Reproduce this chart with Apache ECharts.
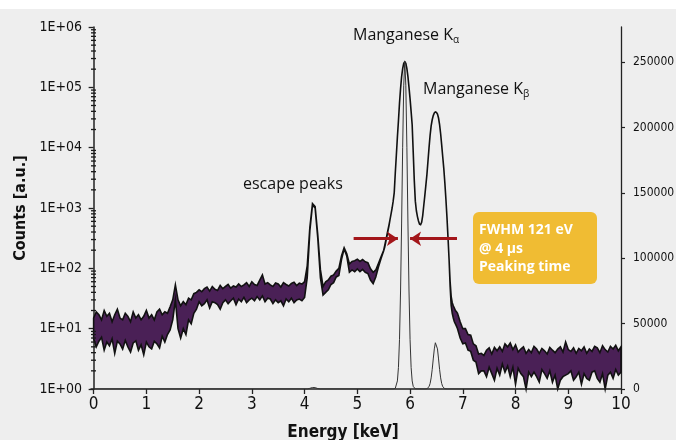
<!DOCTYPE html>
<html><head><meta charset="utf-8">
<script src="https://cdn.jsdelivr.net/npm/echarts@6/dist/echarts.min.js"></script>
<style>html,body{margin:0;padding:0;background:#eeeeee;}#c{width:676px;height:440px;}</style>
</head><body><div id="c"></div>
<script>
// ---- spectrum (log scale, left axis): energy grid, upper / lower noise envelope ----
const energy = [
 0,0.05,0.1,0.15,0.2,0.25,0.3,0.35,0.4,0.45,0.5,0.55,0.6,0.65,0.7,0.75,0.8,0.85,0.9,0.95,
 1,1.05,1.1,1.15,1.2,1.25,1.3,1.35,1.4,1.45,1.5,1.55,1.6,1.65,1.7,1.75,1.8,1.85,1.9,1.95,
 2,2.05,2.1,2.15,2.2,2.25,2.3,2.35,2.4,2.45,2.5,2.55,2.6,2.65,2.7,2.75,2.8,2.85,2.9,2.95,
 3,3.05,3.1,3.15,3.2,3.25,3.3,3.35,3.4,3.45,3.5,3.55,3.6,3.65,3.7,3.75,3.8,3.85,3.9,3.95,
 4,4.05,4.1,4.15,4.2,4.25,4.3,4.35,4.4,4.45,4.5,4.55,4.6,4.65,4.7,4.75,4.8,4.85,4.9,4.95,
 5,5.05,5.1,5.15,5.2,5.25,5.3,5.35,5.4,5.45,5.5,
 5.52,5.54,5.56,5.58,5.6,5.62,5.64,5.66,5.68,5.7,5.72,5.74,5.76,5.78,5.8,5.82,5.84,5.86,5.88,5.9,
 5.92,5.94,5.96,5.98,6,6.02,6.04,6.06,6.08,6.1,6.12,6.14,6.16,6.18,6.2,6.22,6.24,6.26,6.28,6.3,
 6.32,6.34,6.36,6.38,6.4,6.42,6.44,6.46,6.48,6.5,6.52,6.54,6.56,6.58,6.6,6.62,6.64,6.66,6.68,6.7,
 6.72,6.74,6.76,6.78,6.8,6.82,6.84,6.86,6.88,6.9,
 6.95,7,7.05,7.1,7.15,7.2,7.25,7.3,7.35,7.4,7.45,7.5,7.55,7.6,7.65,7.7,7.75,7.8,7.85,7.9,
 7.95,8,8.05,8.1,8.15,8.2,8.25,8.3,8.35,8.4,8.45,8.5,8.55,8.6,8.65,8.7,8.75,8.8,8.85,8.9,
 8.95,9,9.05,9.1,9.15,9.2,9.25,9.3,9.35,9.4,9.45,9.5,9.55,9.6,9.65,9.7,9.75,9.8,9.85,9.9,
 9.95,10
];
const countsUpper = [
 15,19,17,14,20,16,18,13,17,21,15,14,18,16,13,19,15,17,14,16,
 20,15,17,14,19,21,17,19,18,23,30,53,30,24,28,25,32,30,38,40,
 44,41,46,49,42,50,45,43,52,46,50,54,47,51,49,55,50,53,58,50,
 60,54,52,64,78,55,58,53,50,57,55,49,58,54,51,56,59,52,57,55,
 60,110,480,1180,1060,360,95,50,60,64,74,78,90,100,160,220,175,118,130,134,
 142,130,140,128,124,98,86,94,120,155,200,
 240,290,350,430,520,640,800,1000,1300,1800,3800,7500,15000,28000,55000,95000,150000,205000,250000,265000,
 250000,205000,150000,100000,65000,40000,24000,8500,2900,1300,900,720,610,540,530,580,750,1100,1600,2400,
 3600,6000,10000,16000,23000,29000,34000,37500,39000,38500,36000,31000,24000,17000,11000,7000,4500,2600,1400,700,
 320,140,60,34,27,24,22,20,19,18,
 13,10,10,8,7.8,5.6,5.2,3.8,3.9,
 3.6,4.4,4.8,3.8,4.9,4.3,5.0,4.2,5.6,5.0,5.8,4.5,5.4,4.1,4.6,5.0,3.9,4.5,4.0,5.1,
 4.6,3.9,4.7,4.3,3.8,4.9,4.4,4.0,4.6,5.0,4.1,6.0,4.5,4.2,4.8,3.9,4.7,4.3,5.0,3.9,
 4.6,4.2,5.1,4.8,4.0,5.2,4.5,4.1,5.1,4.6,5.3,4.3,5.0
];
const countsLower = [
 6.8,5.0,6.2,7.2,4.4,6.0,5.2,6.8,3.9,6.2,5.6,4.6,6.4,5.0,4.1,5.8,6.3,4.4,5.4,3.7,
 6.0,5.0,4.6,6.2,5.6,4.8,7.5,6.0,8.0,9.5,14,30,10,7.0,10,8.0,14,12,18,21,
 28,24,26,30,22,28,27,25,21,27,30,26,29,32,25,31,28,33,27,30,
 32,29,34,30,35,28,32,31,26,30,27,29,24,31,28,32,27,30,31,29,
 33,70,420,1120,1000,320,70,36,40,44,54,58,72,76,140,210,160,86,94,88,
 98,88,96,86,82,64,56,72,105,145,195,
 225,275,335,415,505,640,800,1000,1300,1800,3800,7500,15000,28000,55000,95000,150000,205000,250000,265000,
 250000,205000,150000,100000,65000,40000,24000,8500,2900,1300,900,720,610,540,530,580,750,1100,1600,2400,
 3600,6000,10000,16000,23000,29000,34000,37500,39000,38500,36000,31000,24000,17000,11000,7000,4500,2600,1400,700,
 320,140,50,24,18,15,13,12,11,10,
 7.0,5.6,5.8,4.4,4.2,3.0,2.8,1.8,2.0,
 2.0,1.6,2.3,1.8,1.4,2.2,1.7,2.6,1.9,2.4,1.6,2.3,1.2,2.2,1.8,1.6,1.0,1.9,1.6,1.9,
 1.6,1.3,2.1,1.8,1.5,2.0,1.3,1.7,1.0,1.4,1.6,1.7,1.8,2.0,1.4,1.6,1.9,1.2,1.8,1.5,
 1.4,1.9,2.0,1.5,1.3,1.8,1.0,1.7,1.9,1.5,2.1,1.7,1.9
];
// ---- spectrum (linear scale, right axis) ----
const linEnergy = [
 0,4.05,4.1,4.15,4.2,4.25,4.3,
 5.68,5.7,5.72,5.74,5.76,5.78,5.8,5.82,5.84,5.86,5.88,5.9,5.92,5.94,5.96,5.98,6,6.02,6.04,6.06,6.08,6.1,6.12,
 6.28,6.3,6.32,6.34,6.36,6.38,6.4,6.42,6.44,6.46,6.48,6.5,6.52,6.54,6.56,6.58,6.6,6.62,6.64,6.66,6.68,6.7,
 10
];
const linCounts = [
 0,0,500,1150,1050,350,0,
 0,100,550,2000,6200,16500,38000,75000,127000,185000,232000,251000,232000,185000,127000,75000,38000,16500,6200,2000,550,100,0,
 0,60,210,660,1780,4200,8500,15000,23000,30700,35400,35400,30700,23000,15000,8500,4200,1780,660,210,60,0,
 0
];
// ---- axes ----
const xMin = -0.05;
const xTicks = [0,1,2,3,4,5,6,7,8,9,10];
const yLogLabels = ['1E+00','1E+01','1E+02','1E+03','1E+04','1E+05','1E+06'];
const yLogMinorTicks = [2,3,4,5,6,7,8,9,20,30,40,50,60,70,80,90,200,300,400,500,600,700,800,900,
 2000,3000,4000,5000,6000,7000,8000,9000,20000,30000,40000,50000,60000,70000,80000,90000,
 200000,300000,400000,500000,600000,700000,800000,900000];
const yLinTicks = [0,50000,100000,150000,200000,250000];
// ---- FWHM arrows (energy keV, linear counts) ----
const arrowLevel = 115000;
const arrowLeftE = [4.93, 5.77];
const arrowRightE = [6.89, 6.00];

const NARROW = "'DejaVu Sans Condensed','Liberation Sans Narrow',sans-serif";
const ANNO = "'Open Sans',sans-serif";
const chart = echarts.init(document.getElementById('c'));
const band = energy.map((e,i)=>[e, countsUpper[i], countsLower[i]]);

chart.setOption({
  animation:false,
  backgroundColor:'#eeeeee',
  grid:{left:91,right:55,top:27,bottom:51,outerBoundsMode:'none',containLabel:false},
  xAxis:{type:'value',min:xMin,max:10,
    name:'Energy [keV]',nameLocation:'middle',nameGap:35,
    nameTextStyle:{fontFamily:NARROW,fontSize:17,fontWeight:'bold',color:'#111',padding:[0,26,0,0]},
    axisLine:{show:true,onZero:false,lineStyle:{color:'#222',width:1.5}},
    axisTick:{show:true,length:5,customValues:xTicks,lineStyle:{color:'#222',width:1.3}},
    axisLabel:{customValues:xTicks,margin:7,fontFamily:NARROW,fontSize:17,color:'#111'},
    splitLine:{show:false}},
  yAxis:[
    {type:'log',logBase:10,min:1,max:1000000,position:'left',
     name:'Counts [a.u.]',nameLocation:'middle',nameGap:59,nameRotate:90,
     nameTextStyle:{fontFamily:NARROW,fontSize:16,fontWeight:'bold',color:'#111'},
     axisLine:{show:true,lineStyle:{color:'#222',width:1.5}},
     axisTick:{show:true,length:5,lineStyle:{color:'#222',width:1.3}},
     axisLabel:{margin:9,fontFamily:NARROW,fontSize:14,color:'#111',
       formatter:v=>yLogLabels[Math.round(Math.log10(v))]},
     splitLine:{show:false}},
    {type:'value',min:0,max:277000,position:'right',
     axisLine:{show:true,lineStyle:{color:'#222',width:1.3}},
     axisTick:{show:true,length:4,customValues:yLinTicks,lineStyle:{color:'#222',width:1.2}},
     axisLabel:{customValues:yLinTicks,margin:12,fontFamily:NARROW,fontSize:12,color:'#111',
       formatter:v=>String(v)},
     splitLine:{show:false}}
  ],
  series:[
    {type:'custom',name:'log spectrum',xAxisIndex:0,yAxisIndex:0,z:2,silent:true,clip:false,
     data:band,encode:{x:0,y:[1,2]},
     renderItem:function(params,api){
       if(params.dataIndex!==0) return null;
       const pts=[];
       for(let i=0;i<energy.length;i++) pts.push(api.coord([energy[i],countsUpper[i]]));
       for(let i=energy.length-1;i>=0;i--) pts.push(api.coord([energy[i],countsLower[i]]));
       return {type:'polygon',shape:{points:pts},
         style:{fill:'#4a2056',stroke:'#111',lineWidth:1.6,lineJoin:'miter'}};
     }},
    {type:'scatter',name:'log minor ticks',xAxisIndex:0,yAxisIndex:0,z:6,silent:true,clip:false,
     data:yLogMinorTicks.map(v=>[xMin,v]),symbol:'rect',symbolSize:[5,1.3],symbolOffset:[2.5,0],
     itemStyle:{color:'#1a1a1a',opacity:1}},
    {type:'line',name:'linear spectrum',xAxisIndex:0,yAxisIndex:1,z:3,silent:true,
     data:linEnergy.map((e,i)=>[e,linCounts[i]]),showSymbol:false,symbol:'none',
     lineStyle:{color:'#333',width:1},
     markLine:{silent:true,symbol:['none','arrow'],symbolSize:11,
       lineStyle:{color:'#a3161a',width:3,type:'solid'},label:{show:false},
       emphasis:{disabled:true},
       data:[
         [{coord:[arrowLeftE[0],arrowLevel]},{coord:[arrowLeftE[1],arrowLevel]}],
         [{coord:[arrowRightE[0],arrowLevel]},{coord:[arrowRightE[1],arrowLevel]}]
       ]}}
  ],
  graphic:[
    {type:'rect',left:0,top:0,shape:{width:676,height:9},style:{fill:'#ffffff'},silent:true,z:-1},
    {type:'text',left:353,top:27,style:{text:'{a|Manganese K}{b|α}',
      rich:{a:{fontFamily:ANNO,fontSize:16,fill:'#111',lineHeight:20},
            b:{fontFamily:ANNO,fontSize:10,fill:'#111',lineHeight:10,verticalAlign:'bottom'}}}},
    {type:'text',left:423,top:81,style:{text:'{a|Manganese K}{b|β}',
      rich:{a:{fontFamily:ANNO,fontSize:16,fill:'#111',lineHeight:20},
            b:{fontFamily:ANNO,fontSize:10,fill:'#111',lineHeight:10,verticalAlign:'bottom'}}}},
    {type:'text',left:243,top:176,style:{text:'escape peaks',fontFamily:ANNO,fontSize:16,fill:'#111'}},
    {type:'rect',left:473,top:212,shape:{width:124,height:72,r:6},style:{fill:'#f0bc33'}},
    {type:'text',left:479,top:221,style:{text:'FWHM 121 eV\n@ 4 µs\nPeaking time',
      fontFamily:ANNO,fontSize:14,fontWeight:'bold',fill:'#ffffff',lineHeight:18.5}}
  ]
});
</script></body></html>
